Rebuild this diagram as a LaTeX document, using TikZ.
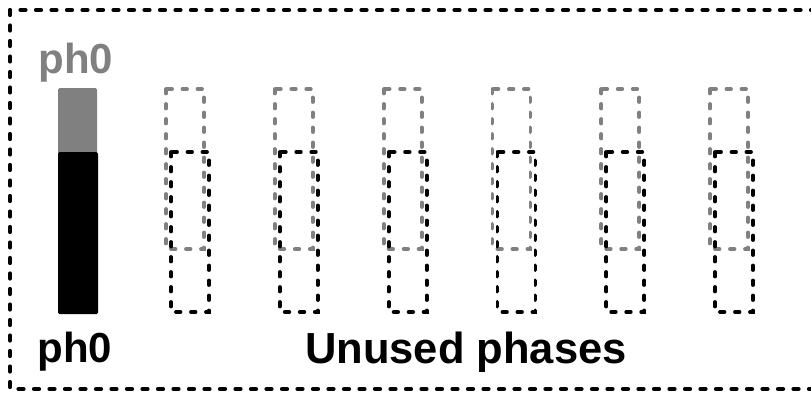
\documentclass[tikz,border=0pt]{standalone}
\usepackage{fontspec}
\setmainfont{Liberation Sans}
\begin{document}
\begin{tikzpicture}[x=1pt,y=-1pt,
  frame/.style={line width=4.2pt,line cap=round,dash pattern=on 5pt off 10.5pt},
  slotdash/.style={line width=3.8pt,line cap=round,dash pattern=on 4.5pt off 10.5pt},
  oldslot/.style={slotdash,draw=gray},
  newslot/.style={slotdash,draw=black},
  label/.style={font=\bfseries\fontsize{42}{50}\selectfont,inner sep=0pt,anchor=base},
  biglabel/.style={font=\bfseries\fontsize{43.5}{52}\selectfont,inner sep=0pt,anchor=base}]
\useasboundingbox (0,0) rectangle (811,394);
\begin{scope}
\clip (0,0) rectangle (811,394);
% outer dashed frame, running off the right edge
\draw[frame] (10,10) rectangle (840,389);
% phase 0 bar: previous (gray) and current (black) part
\fill[gray,rounded corners=1.5pt] (58,88) rectangle (97,160);
\fill[black,rounded corners=1.5pt] (58,152) rectangle (98,314);
% six unused phase slots
\foreach \i in {0,...,5}{
  \draw[oldslot] ({166+108.8*\i},89) rectangle ({204+108.8*\i},249);
  \draw[newslot] ({171+108.8*\i},152) rectangle ({209+108.8*\i},312);
}
\end{scope}
\node[label,text=gray] (top) at (76,73) {ph0};
\node[label] (bot) at (75,362) {ph0};
\node[biglabel] (unused) at (466,363) {Unused phases};
\end{tikzpicture}
\end{document}
